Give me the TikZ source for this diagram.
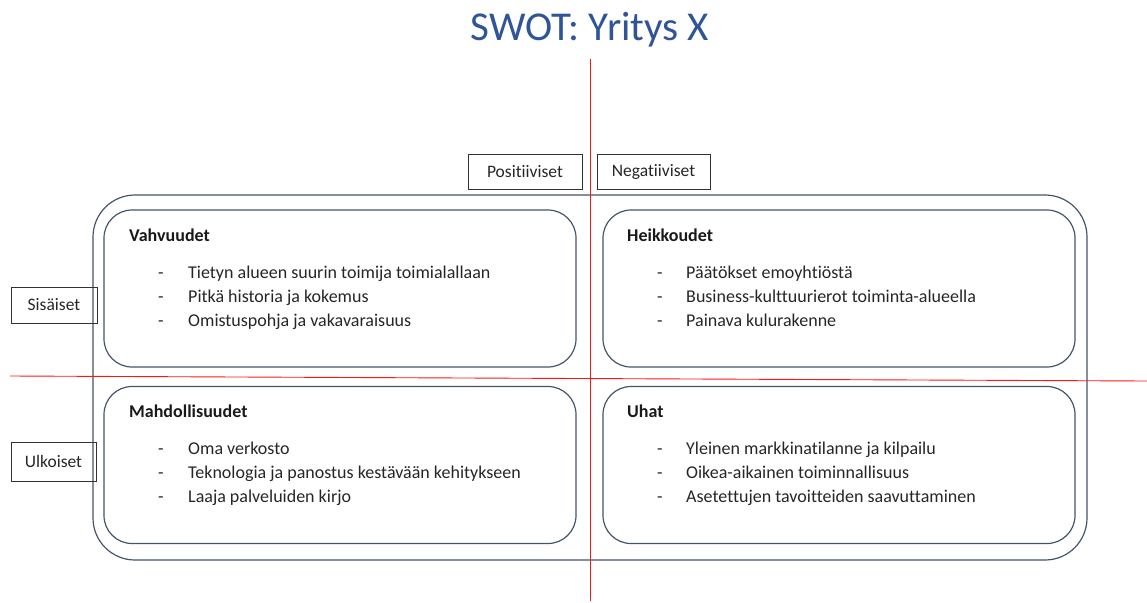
\documentclass[tikz,border=0pt]{standalone}
\usepackage{fontspec}
\setmainfont{Carlito}[Ligatures=NoCommon]
\definecolor{titleblue}{RGB}{47,85,151}
\definecolor{slate}{RGB}{68,84,106}
\definecolor{labelgrey}{RGB}{50,50,50}
\definecolor{axisred}{RGB}{255,20,20}
\begin{document}
\begin{tikzpicture}[x=1pt,y=-1pt,
  outerframe/.style={draw=slate, line width=1.2pt, rounded corners=42pt,
    minimum width=994pt, minimum height=365pt, inner sep=0pt},
  quadbox/.style={draw=slate, line width=1.2pt, rounded corners=28pt,
    minimum width=472pt, minimum height=157pt, inner sep=0pt},
  axislabel/.style={draw=labelgrey, line width=1pt, inner sep=0pt,
    font=\fontsize{17.5}{21}\selectfont, text=black!85},
  heading/.style={anchor=base west, inner sep=0pt,
    font=\fontsize{18}{22}\selectfont\bfseries, text=black!90},
  item/.style={anchor=base west, inner sep=0pt,
    font=\fontsize{18}{22}\selectfont, text=black!85},
  axis/.style={draw=axisred, line width=0.9pt}]
\useasboundingbox (0,0) rectangle (1147,602);

% title
\node[inner sep=0pt, text=titleblue, font=\fontsize{41}{48}\selectfont]
  (title) at (590,30) {SWOT: Yritys X};

% frame around the four quadrants
\node[outerframe] (frame) at (590,377.5) {};

% quadrant boxes
\node[quadbox] (S) at (340,288.5) {};
\node[quadbox] (W) at (839,288.5) {};
\node[quadbox] (O) at (340,465) {};
\node[quadbox] (T) at (839,465) {};

% axes
\coordinate (vtop) at (590,59);
\coordinate (vbot) at (590,601);
\coordinate (hleft) at (10,376);
\coordinate (hright) at (1147,381);
\draw[axis] (vtop) -- (vbot);
\draw[axis] (hleft) -- (hright);

% axis labels
\node[axislabel, minimum width=114pt, minimum height=35pt] (pos) at (525,171.5) {Positiiviset};
\node[axislabel, minimum width=113pt, minimum height=35pt] (neg) at (653.5,171.5) {Negatiiviset};
\node[axislabel, minimum width=86pt, minimum height=36pt] (int) at (54,305) {Sisäiset};
\node[axislabel, minimum width=85pt, minimum height=39pt] (ext) at (53.5,461.5) {Ulkoiset};

% Strengths
\node[heading] (sh) at (129,241) {Vahvuudet};
\node[item] (sd1) at (158,278) {-};
\node[item] (si1) at (188,278) {Tietyn alueen suurin toimija toimialallaan};
\node[item] (sd2) at (158,302) {-};
\node[item] (si2) at (188,302) {Pitkä historia ja kokemus};
\node[item] (sd3) at (158,326) {-};
\node[item] (si3) at (188,326) {Omistuspohja ja vakavaraisuus};

% Weaknesses
\node[heading] (wh) at (627,241) {Heikkoudet};
\node[item] (wd1) at (657,278) {-};
\node[item] (wi1) at (686,278) {Päätökset emoyhtiöstä};
\node[item] (wd2) at (657,302) {-};
\node[item] (wi2) at (686,302) {Business-kulttuurierot toiminta-alueella};
\node[item] (wd3) at (657,326) {-};
\node[item] (wi3) at (686,326) {Painava kulurakenne};

% Opportunities
\node[heading] (oh) at (129,417) {Mahdollisuudet};
\node[item] (od1) at (158,454) {-};
\node[item] (oi1) at (188,454) {Oma verkosto};
\node[item] (od2) at (158,478) {-};
\node[item] (oi2) at (188,478) {Teknologia ja panostus kestävään kehitykseen};
\node[item] (od3) at (158,502) {-};
\node[item] (oi3) at (188,502) {Laaja palveluiden kirjo};

% Threats
\node[heading] (th) at (627,417) {Uhat};
\node[item] (td1) at (657,454) {-};
\node[item] (ti1) at (686,454) {Yleinen markkinatilanne ja kilpailu};
\node[item] (td2) at (657,478) {-};
\node[item] (ti2) at (686,478) {Oikea-aikainen toiminnallisuus};
\node[item] (td3) at (657,502) {-};
\node[item] (ti3) at (686,502) {Asetettujen tavoitteiden saavuttaminen};
\end{tikzpicture}
\end{document}
